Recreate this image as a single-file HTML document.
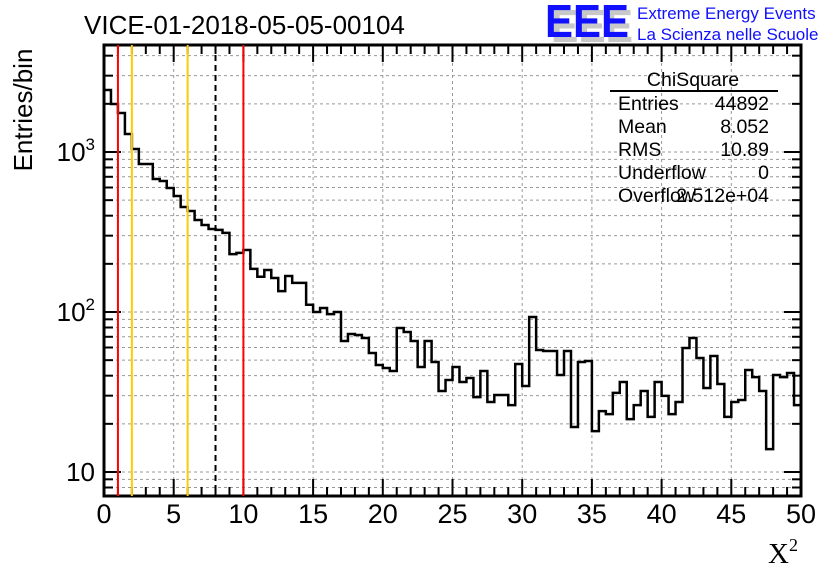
<!DOCTYPE html>
<html><head><meta charset="utf-8"><style>
body{margin:0;background:#fff;width:836px;height:572px;overflow:hidden}
svg{display:block;font-family:"Liberation Sans",sans-serif}
</style></head><body>
<svg id="c" width="836" height="572" viewBox="0 0 836 572">
<text x="84" y="34" font-size="26">VICE-01-2018-05-05-00104</text>
<g>
<text x="551" y="42" font-size="46" font-weight="bold" fill="#c8c8c8" textLength="82" lengthAdjust="spacingAndGlyphs">EEE</text>
<text x="545" y="37" font-size="46" font-weight="bold" fill="#1010ff" textLength="84" lengthAdjust="spacingAndGlyphs">EEE</text>
<text x="637" y="19" font-size="17" fill="#1010ff">Extreme Energy Events</text>
<text x="637" y="40" font-size="17" fill="#1010ff">La Scienza nelle Scuole</text>
</g>
<text transform="translate(32,110) rotate(-90)" text-anchor="middle" font-size="26">Entries/bin</text>
<text x="768" y="563" font-size="29" font-family="Liberation Serif,serif">X<tspan font-size="18" dy="-12">2</tspan></text>
<g id="grid"></g><g id="axes"></g><g id="marks"></g>
<g font-size="19.5">
<text x="693" y="86" text-anchor="middle">ChiSquare</text>
<line x1="610" y1="91" x2="778" y2="91" stroke="#000" stroke-width="2"/>
<text x="618" y="110">Entries</text><text x="769" y="110" text-anchor="end">44892</text>
<text x="618" y="133">Mean</text><text x="769" y="133" text-anchor="end">8.052</text>
<text x="618" y="156">RMS</text><text x="769" y="156" text-anchor="end">10.89</text>
<text x="618" y="179">Underflow</text><text x="769" y="179" text-anchor="end">0</text>
<text x="618" y="202">Overflow</text><text x="769" y="202" text-anchor="end">2.512e+04</text>
</g>
</svg>
<script>
const binWidth = 0.5;
const counts = [2441,1995,1754,1296,1044,841,841,678,659,596,531,453,428,376,350,330,326,312,230,234,
244,186,166,183,163,135,168,152,152,111,100,106,97,100,65.9,72.9,71.8,68.8,55.4,46.6,
44.7,42.8,79.4,75,65.9,45.3,65.9,48.7,32.1,37.6,45.3,36.5,38.7,29.4,42.8,27.4,30.3,30.3,26.2,47.3,
34.5,93,57.9,57,57,40.4,57,19.1,48.7,49.4,18.0,24.0,23.0,31.2,36.5,21.4,26.2,32.1,22.1,36.5,
29.9,23.0,27.4,59.6,68.8,51.6,33.5,53.1,35.5,22.1,27.4,28.2,43.4,39.2,32.1,13.9,40.4,39.2,41.6,26.2];
const xTicks = [0,5,10,15,20,25,30,35,40,45,50];
const redLines = [1,10];
const orangeLines = [2,6];
const dashedLines = [8];
const NS="http://www.w3.org/2000/svg";
const X0=104,X1=801,Y0=45,Y1=496;
const xs=v=>X0+(v/50)*(X1-X0);
const ys=v=>472-160*(Math.log10(v)-1);
function mk(tag,attrs,parent){const e=document.createElementNS(NS,tag);for(const k in attrs)e.setAttribute(k,attrs[k]);parent.appendChild(e);return e;}
const grid=document.getElementById('grid'),axes=document.getElementById('axes'),marks=document.getElementById('marks');
xTicks.forEach(t=>{if(t>0&&t<50){const l=mk('line',{x1:xs(t),x2:xs(t),y1:Y0,y2:Y1,stroke:'#999','stroke-dasharray':'3,3'},grid);

}});
const yT=[];
for(let d=1;d<=1000;d*=10)for(let m=1;m<10;m++){const v=d*m;const y=ys(v);if(y>Y0&&y<Y1)yT.push([v,m===1]);}
yT.forEach(([v,maj])=>{const l=mk('line',{x1:X0,x2:X1,y1:ys(v),y2:ys(v),stroke:'#999','stroke-dasharray':'3,3'},grid);


const len=maj?17:9;
mk('line',{x1:X0,x2:X0+len,y1:ys(v),y2:ys(v),stroke:'#000','stroke-width':2},axes);
mk('line',{x1:X1,x2:X1-len,y1:ys(v),y2:ys(v),stroke:'#000','stroke-width':2},axes);
if(maj){const t=mk('text',{x:X0-9,y:ys(v)+9,'text-anchor':'end','font-size':26},axes);


if(v===10)t.textContent='10';else{t.textContent='10';const s=mk('tspan',{'font-size':17,dy:-11},t);s.textContent=v===100?'2':'3';}}});
for(let i=0;i<=50;i++){const maj=i%5===0,len=maj?17:9;
mk('line',{x1:xs(i),x2:xs(i),y1:Y1,y2:Y1-len,stroke:'#000','stroke-width':2},axes);
mk('line',{x1:xs(i),x2:xs(i),y1:Y0,y2:Y0+len,stroke:'#000','stroke-width':2},axes);}
xTicks.forEach(t=>{const e=mk('text',{x:xs(t),y:523,'text-anchor':'middle','font-size':27},axes);e.textContent=t;

});
const fr=mk('rect',{x:X0,y:Y0,width:X1-X0,height:Y1-Y0,fill:'none',stroke:'#000','stroke-width':3},axes);


let d='';counts.forEach((c,i)=>{const xa=xs(i*binWidth),xb=xs((i+1)*binWidth),y=ys(c);d+=(i===0?'M'+xa+','+y:'L'+xa+','+y)+'L'+xb+','+y;});
d+='L'+X1+','+ys(counts[counts.length-1]);
const h=mk('path',{d:d,fill:'none',stroke:'#000','stroke-width':2.5},marks);


redLines.forEach(v=>{const l=mk('line',{x1:xs(v),x2:xs(v),y1:Y0,y2:Y1,stroke:'#ff0000','stroke-width':2},marks);

});
orangeLines.forEach(v=>{const l=mk('line',{x1:xs(v),x2:xs(v),y1:Y0,y2:Y1,stroke:'#ffcc00','stroke-width':2},marks);

});
dashedLines.forEach(v=>{const l=mk('line',{x1:xs(v),x2:xs(v),y1:Y0,y2:Y1,stroke:'#000','stroke-width':2,'stroke-dasharray':'6,4'},marks);

});
</script>
</body></html>
